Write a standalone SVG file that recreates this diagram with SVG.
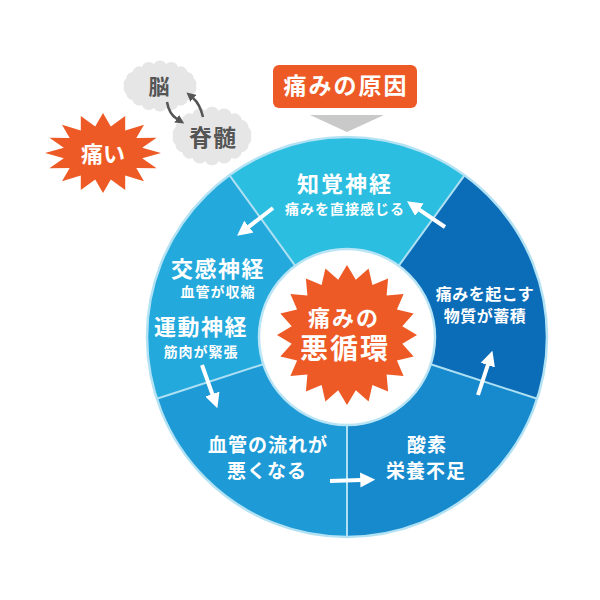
<svg xmlns="http://www.w3.org/2000/svg" width="600" height="600" viewBox="0 0 600 600">
<defs>
<style>
text{font-family:"Liberation Sans","Noto Sans CJK JP",sans-serif;font-weight:bold;text-anchor:middle}
.w{fill:#fff}
.g{fill:#555}
.arr{stroke:#fff;stroke-width:4;fill:none}
.garr{stroke:#555;stroke-width:2.5;fill:none}
.div{stroke:#aee0f3;stroke-width:2}
</style>
<marker id="wa" viewBox="0 0 10 10" refX="0.5" refY="5" markerWidth="15" markerHeight="15" markerUnits="userSpaceOnUse" orient="auto"><path d="M0,0 L10,5 L0,10 z" fill="#fff"/></marker>
<marker id="ga" viewBox="0 0 10 10" refX="0.5" refY="5" markerWidth="9" markerHeight="9" markerUnits="userSpaceOnUse" orient="auto"><path d="M0,0 L10,5 L0,10 z" fill="#555"/></marker>
<path id="cloud" d="M36,0 A7,7 0 0 1 33.8,7.5 A7,7 0 0 1 27.6,14.1 A7,7 0 0 1 18,19.1 A7,7 0 0 1 6.2,21.7 A7,7 0 0 1 -6.2,21.7 A7,7 0 0 1 -18,19.1 A7,7 0 0 1 -27.6,14.1 A7,7 0 0 1 -33.8,7.5 A7,7 0 0 1 -36,0 A7,7 0 0 1 -33.8,-7.5 A7,7 0 0 1 -27.6,-14.1 A7,7 0 0 1 -18,-19.1 A7,7 0 0 1 -6.2,-21.7 A7,7 0 0 1 6.2,-21.7 A7,7 0 0 1 18,-19.1 A7,7 0 0 1 27.6,-14.1 A7,7 0 0 1 33.8,-7.5 A7,7 0 0 1 36,0 Z" fill="#e6e6e6"/>
</defs>
<rect width="600" height="600" fill="#fff"/>

<!-- ring segments -->
<g id="wheel">
<path id="seg-top" d="M347,337 L229.4,175.2 A200,200 0 0 1 464.6,175.2 Z" fill="#2bbee0"/>
<path id="seg-right" d="M347,337 L464.6,175.2 A200,200 0 0 1 537.2,398.8 Z" fill="#0b6db7"/>
<path id="seg-lowright" d="M347,337 L537.2,398.8 A200,200 0 0 1 347,537 Z" fill="#178acd"/>
<path id="seg-lowleft" d="M347,337 L347,537 A200,200 0 0 1 156.8,398.8 Z" fill="#1e9bd6"/>
<path id="seg-left" d="M347,337 L156.8,398.8 A200,200 0 0 1 229.4,175.2 Z" fill="#23a9dc"/>
<circle cx="347" cy="337" r="200" fill="none" stroke="#b3e2f4" stroke-width="2.5"/>
<g class="div">
<line x1="295.3" y1="265.8" x2="229.4" y2="175.2"/>
<line x1="398.7" y1="265.8" x2="464.6" y2="175.2"/>
<line x1="430.7" y1="364.2" x2="537.2" y2="398.8"/>
<line x1="347" y1="425" x2="347" y2="537"/>
<line x1="263.3" y1="364.2" x2="156.8" y2="398.8"/>
</g>
<circle cx="347" cy="337" r="88" fill="#fff" stroke="#b8e4f5" stroke-width="2.5"/>
</g>

<!-- center burst -->
<g id="center">
<polygon transform="translate(347,335)" fill="#ee5a25" points="0,-70 8.8,-55.3 21.6,-66.6 25.4,-49.9 41.1,-56.6 39.6,-39.6 56.6,-41.1 49.9,-25.4 66.6,-21.6 55.3,-8.8 70,0 55.3,8.8 66.6,21.6 49.9,25.4 56.6,41.1 39.6,39.6 41.1,56.6 25.4,49.9 21.6,66.6 8.8,55.3 0,70 -8.8,55.3 -21.6,66.6 -25.4,49.9 -41.1,56.6 -39.6,39.6 -56.6,41.1 -49.9,25.4 -66.6,21.6 -55.3,8.8 -70,0 -55.3,-8.8 -66.6,-21.6 -49.9,-25.4 -56.6,-41.1 -39.6,-39.6 -41.1,-56.6 -25.4,-49.9 -21.6,-66.6 -8.8,-55.3"/>
<text class="w" x="344" y="326" font-size="22" letter-spacing="2">痛みの</text>
<text class="w" x="345" y="359" font-size="28" letter-spacing="2">悪循環</text>
</g>

<!-- segment labels -->
<g id="n-chikaku">
<text class="w" x="345" y="192" font-size="22" letter-spacing="2">知覚神経</text>
<text class="w" x="345" y="214" font-size="14" letter-spacing="1">痛みを直接感じる</text>
</g>
<g id="n-busshitsu">
<text class="w" x="485" y="300" font-size="16" letter-spacing="0.5">痛みを起こす</text>
<text class="w" x="485" y="322" font-size="16" letter-spacing="0.5">物質が蓄積</text>
</g>
<g id="n-sanso">
<text class="w" x="427" y="452" font-size="19" letter-spacing="1">酸素</text>
<text class="w" x="426" y="478" font-size="19" letter-spacing="1">栄養不足</text>
</g>
<g id="n-kekkan">
<text class="w" x="268" y="452" font-size="19" letter-spacing="1">血管の流れが</text>
<text class="w" x="267" y="478" font-size="19" letter-spacing="1">悪くなる</text>
</g>
<g id="n-shinkei">
<text class="w" x="218" y="277" font-size="22" letter-spacing="1.5">交感神経</text>
<text class="w" x="218" y="297" font-size="14" letter-spacing="1">血管が収縮</text>
<text class="w" x="201" y="335" font-size="22" letter-spacing="1.5">運動神経</text>
<text class="w" x="201" y="357" font-size="14" letter-spacing="1">筋肉が緊張</text>
</g>

<!-- top label -->
<g id="cause">
<rect x="273" y="65" width="144" height="43" rx="6" fill="#ee5a25"/>
<text class="w" x="346" y="94" font-size="23" letter-spacing="2">痛みの原因</text>
<polygon points="310,115 384,115 347,132" fill="#c9c9c9"/>
</g>

<!-- brain / spinal cord -->
<g id="brain">
<use href="#cloud" transform="translate(160,86)"/>
<text class="g" x="159" y="94" font-size="21">脳</text>
</g>
<g id="spine">
<use href="#cloud" transform="translate(212,136) scale(1.08,1.15)"/>
<text class="g" x="213" y="146" font-size="23" letter-spacing="1">脊髄</text>
</g>

<!-- pain burst -->
<g id="itai">
<polygon transform="translate(103,153)" fill="#ee5a25" points="0,-40 7.8,-26.5 22.2,-37 22.2,-22.5 41,-28.3 33.3,-15 53.6,-15.3 39.2,-5.3 58,0 39.2,5.3 53.6,15.3 33.3,15 41,28.3 22.2,22.5 22.2,37 7.8,26.5 0,40 -7.8,26.5 -22.2,37 -22.2,22.5 -41,28.3 -33.3,15 -53.6,15.3 -39.2,5.3 -58,0 -39.2,-5.3 -53.6,-15.3 -33.3,-15 -41,-28.3 -22.2,-22.5 -22.2,-37 -7.8,-26.5"/>
<text class="w" x="103" y="162" font-size="22">痛い</text>
</g>

<!-- connectors -->
<g id="connectors">
<path class="garr" d="M167,102 Q169,114 177,119" marker-end="url(#ga)"/>
<path class="garr" d="M203,117 Q200,104 193,98" marker-end="url(#ga)"/>
<line class="arr" x1="273" y1="208" x2="248.3" y2="227.1" marker-end="url(#wa)"/>
<line class="arr" x1="445" y1="227" x2="418.8" y2="209.3" marker-end="url(#wa)"/>
<line class="arr" x1="478" y1="395" x2="488" y2="364.4" marker-end="url(#wa)"/>
<line class="arr" x1="202" y1="365" x2="212.6" y2="394.8" marker-end="url(#wa)"/>
<line class="arr" x1="330" y1="481" x2="361" y2="480" marker-end="url(#wa)"/>
</g>
</svg>
